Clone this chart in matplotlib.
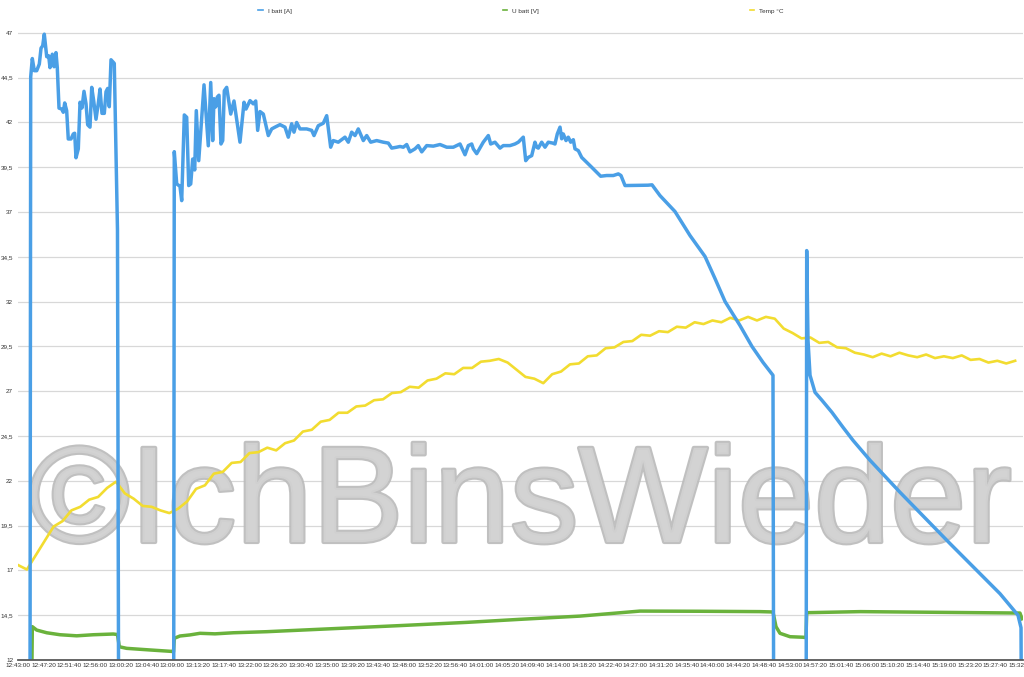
import numpy as np
import matplotlib
matplotlib.use("Agg")
import matplotlib.pyplot as plt
import matplotlib.patheffects as pe
from matplotlib.lines import Line2D
from matplotlib.ticker import FixedLocator, FuncFormatter

plt.rcParams['font.family'] = ['Liberation Sans', 'DejaVu Sans']

# minutes after 12:43:00
START_SEC = 12 * 3600 + 43 * 60

# I batt [A]
ibatt_min = [0.0, 1.99, 2.14, 2.41, 2.75, 3.15, 3.59, 3.88, 4.16, 4.43, 4.84, 5.17, 5.39, 5.78, 6.07, 6.40,
             6.62, 6.91, 7.36, 7.63, 7.87, 8.20, 8.47, 8.93, 9.32, 9.55, 9.77, 10.16, 10.45, 10.78, 11.12,
             11.46, 11.74, 12.13, 12.42, 12.75, 13.14, 13.53, 13.82, 14.15, 14.54, 14.83, 15.11, 15.38,
             15.67, 16.22, 16.76, 17.02,
             26.20, 26.33, 26.74, 27.29, 27.58, 28.02, 28.42, 28.76, 29.10, 29.43, 29.77, 30.04, 30.45,
             31.34, 32.06, 32.47, 32.80, 33.02, 33.31, 33.58, 33.86, 34.20, 34.49, 34.76, 35.16, 35.84,
             36.39, 36.95, 37.40, 38.08, 38.41, 39.09, 39.64, 40.05, 40.38, 40.77, 41.33, 42.17, 42.74,
             43.30, 44.14, 44.98, 45.54, 46.11, 46.50, 46.95, 47.51, 48.64, 49.48, 49.87, 50.59, 51.44,
             52.01, 52.68, 53.12, 53.96, 55.09, 55.65, 56.22, 56.78, 57.33, 58.18, 58.75, 59.42, 60.43,
             61.55, 62.39, 62.96, 63.80, 64.36, 64.92, 65.49, 66.04, 66.89, 67.44, 68.02, 68.86, 69.97,
             71.10, 72.23, 73.34, 74.47, 75.31, 75.87, 76.44, 76.71, 77.28, 78.39, 79.24, 79.64, 80.36,
             81.21, 81.76, 82.89, 83.73, 84.29, 85.13, 85.54, 85.97, 86.55, 87.10, 87.39, 87.66, 88.23,
             88.79, 89.34, 90.09, 90.47, 90.86, 91.32, 91.60, 91.87, 92.33, 92.71, 93.12, 93.56, 93.84,
             94.40, 94.97, 95.81, 96.66, 97.50, 98.17, 99.18, 100.30, 101.14, 101.59, 102.27, 106.14,
             106.82, 108.16, 110.69, 113.22, 115.75, 117.43, 119.12, 121.64, 123.66, 125.52, 127.20,
             127.37, 132.76, 132.88, 133.10, 133.44, 134.28, 135.46, 137.14, 138.99, 140.68, 143.54,
             148.60, 157.02, 165.45, 168.48, 168.99, 169.15]
ibatt_a = [0, 0, 44.55, 45.57, 44.89, 44.89, 45.26, 46.15, 46.28, 46.93, 45.67, 45.72, 45.06, 45.81, 45.11,
           45.90, 45.06, 42.80, 42.75, 42.57, 43.09, 42.66, 41.08, 41.08, 41.36, 41.40, 40.03, 40.53, 43.13,
           42.81, 43.74, 43.04, 41.87, 41.74, 43.96, 43.22, 42.18, 43.07, 43.87, 42.51, 42.51, 43.72, 43.90,
           42.88, 45.50, 45.30, 36.0, 0,
           0, 40.37, 38.57, 38.44, 37.64, 42.42, 42.29, 38.48, 38.57, 39.96, 39.35, 42.66, 39.87,
           44.10, 40.70, 44.23, 40.99, 43.33, 42.87, 43.42, 43.52, 40.80, 40.99, 43.77, 43.96, 42.47,
           43.20, 41.93, 40.90, 43.13, 42.75, 43.22, 43.04, 43.20, 41.56, 42.61, 42.47, 41.27, 41.64,
           41.74, 41.88, 41.74, 41.18, 41.93, 41.46, 42.00, 41.64, 41.64, 41.56, 41.27, 41.82, 41.96,
           42.38, 40.62, 40.99, 40.90, 41.18, 40.90, 41.46, 41.27, 41.64, 40.99, 41.27, 40.90, 40.99,
           40.90, 40.85, 40.57, 40.62, 40.66, 40.62, 40.77, 40.36, 40.53, 40.71, 40.36, 40.71, 40.68,
           40.77, 40.62, 40.62, 40.80, 40.20, 40.71, 40.80, 40.53, 40.26, 40.90, 41.27, 40.80, 40.90,
           40.57, 40.71, 40.71, 40.80, 40.90, 41.18, 39.87, 40.05, 40.15, 40.90, 40.62, 40.57, 40.90,
           40.62, 40.90, 40.85, 40.80, 41.36, 41.74, 41.09, 41.36, 40.99, 41.18, 40.90, 41.04, 40.53,
           40.43, 40.05, 39.78, 39.50, 39.22, 39.00, 39.04, 39.04, 39.13, 39.04, 38.48, 38.50,
           38.52, 37.92, 37.03, 35.69, 34.52, 33.29, 32.01, 30.67, 29.50, 28.61, 27.89,
           0, 0, 34.85, 29.84, 27.89, 26.94, 26.49, 25.82, 24.99, 24.26, 23.15,
           21.36, 18.50, 15.70, 14.50, 13.80, 0]

# U batt [V]
ubatt_min = [0.0, 2.00, 2.41, 3.15, 4.84, 7.08, 9.89, 12.69, 16.06, 16.76, 17.07, 18.31, 22.24, 25.90, 26.20,
             26.33, 27.29, 28.98, 30.66, 33.19, 36.27, 41.90, 53.12, 64.36, 75.60, 84.58, 94.69, 104.79,
             114.90, 125.01, 127.20, 127.71, 128.38, 130.07, 132.26, 132.76, 132.88, 141.90, 155.34,
             168.81, 169.15]
ubatt_v = [0, 0, 13.86, 13.67, 13.52, 13.41, 13.35, 13.41, 13.45, 13.42, 12.74, 12.65, 12.56, 12.48, 12.45,
           13.21, 13.34, 13.40, 13.49, 13.46, 13.52, 13.58, 13.75, 13.92, 14.10, 14.27, 14.45, 14.73,
           14.72, 14.70, 14.68, 13.86, 13.49, 13.30, 13.27, 13.25, 14.64, 14.70, 14.66,
           14.62, 14.30]

# Temp °C, one reading every 1.5 minutes
temp_c = [17.30, 17.05, 17.85, 18.65, 19.45, 19.75, 20.35, 20.55, 20.95, 21.10,
          21.60, 21.95, 21.30, 21.00, 20.60, 20.55, 20.35, 20.20, 20.45, 20.85,
          21.55, 21.75, 22.40, 22.50, 23.00, 23.05, 23.55, 23.60, 23.85, 23.70,
          24.10, 24.25, 24.75, 24.85, 25.30, 25.40, 25.80, 25.80, 26.15, 26.20,
          26.50, 26.55, 26.90, 26.95, 27.25, 27.20, 27.60, 27.70, 28.00, 27.95,
          28.30, 28.30, 28.65, 28.70, 28.80, 28.60, 28.20, 27.80, 27.70, 27.45,
          27.95, 28.10, 28.50, 28.55, 28.95, 29.00, 29.40, 29.45, 29.75, 29.80,
          30.15, 30.10, 30.35, 30.30, 30.60, 30.55, 30.85, 30.75, 30.95, 30.85,
          31.10, 30.95, 31.15, 30.95, 31.15, 31.05, 30.50, 30.25, 29.95, 30.00,
          29.70, 29.75, 29.45, 29.40, 29.15, 29.05, 28.90, 29.10, 28.95, 29.15,
          29.00, 28.90, 29.05, 28.85, 28.95, 28.85, 29.00, 28.75, 28.80, 28.60,
          28.70, 28.55, 28.70]
temp_min = np.arange(len(temp_c)) * 1.5

labels = ["I batt [A]", "U batt [V]", "Temp °C"]
colors = ["#4a9fe6", "#6ab23c", "#f2dc30"]


def clock(m, pos=None):
    s = int(round(START_SEC + m * 60))
    return f"{s // 3600:02d}:{s % 3600 // 60:02d}:{s % 60:02d}"


def comma(v, pos=None):
    return f"{v:g}".replace(".", ",")


fig = plt.figure(figsize=(10.24, 6.77), dpi=100)
ax = fig.add_axes([18 / 1024, 17 / 677, 1005 / 1024, 628 / 677])

# watermark
ax.text(29 / 1024, (677 - 542) / 677, "©IchBinsWieder", transform=fig.transFigure,
        fontsize=98.5, color="#d3d3d3", alpha=0.9, zorder=1, ha="left", va="baseline",
        path_effects=[pe.withStroke(linewidth=3, foreground="#bababa")])

ax.plot(temp_min, temp_c, color=colors[2], lw=1.9, zorder=3, solid_joinstyle="round")
ax.plot(ubatt_min, ubatt_v, color=colors[1], lw=2.5, zorder=3, solid_joinstyle="round")
ax.plot(ibatt_min, ibatt_a, color=colors[0], lw=2.5, zorder=4, solid_joinstyle="round")

ax.set_xlim(0, 1005 * 0.16848)
ax.set_ylim(12, 47.05)

ax.yaxis.set_major_locator(FixedLocator(np.arange(12, 47.1, 2.5)))
ax.yaxis.set_major_formatter(FuncFormatter(comma))
ax.xaxis.set_major_locator(FixedLocator([i * 260 / 60 for i in range(40)]))
ax.xaxis.set_major_formatter(FuncFormatter(clock))

ax.set_axisbelow(True)
ax.yaxis.grid(True, color="#d8d8d8", lw=0.9)
for side in ["top", "right", "left"]:
    ax.spines[side].set_visible(False)
ax.spines["bottom"].set_color("#5a5a5a")
ax.spines["bottom"].set_linewidth(1.3)
ax.spines["bottom"].set_zorder(5)

ax.tick_params(axis="both", length=0, labelsize=4.6, labelcolor="#333333")
ax.tick_params(axis="y", pad=3.5)
ax.tick_params(axis="x", pad=2)

handles = [Line2D([], [], color=c, lw=1.2) for c in colors]
fig.legend(handles, labels, loc="center", bbox_to_anchor=(521 / 1024, 1 - 11 / 677), ncol=3,
           frameon=False, fontsize=4.6, handlelength=0.7, handletextpad=0.8, columnspacing=33.0,
           labelcolor="#333333")

fig.savefig("out.png", dpi=100)
